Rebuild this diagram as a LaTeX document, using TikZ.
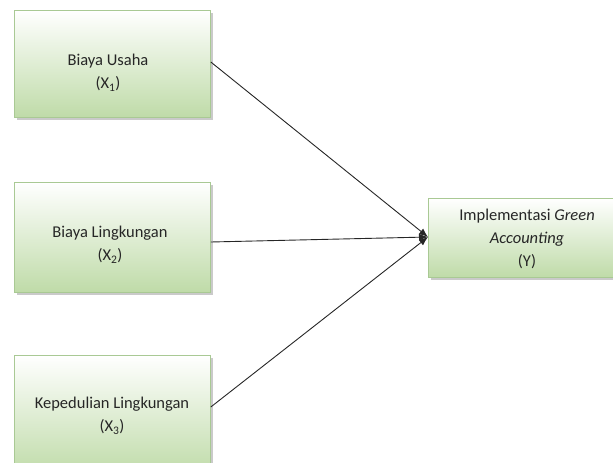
\documentclass[tikz,border=0pt]{standalone}
\usepackage{fontspec}
\setmainfont{Carlito}
\usetikzlibrary{shadows,arrows.meta}
\definecolor{boxgreen}{HTML}{BFDBA8}
\definecolor{boxborder}{HTML}{A9C994}
\definecolor{txt}{HTML}{262626}
\tikzset{
  varbox/.style={draw=boxborder, line width=0.8pt, top color=white, bottom color=boxgreen,
    drop shadow={shadow xshift=2.5pt, shadow yshift=-2.5pt, fill=black!35, opacity=0.6},
    anchor=north west, inner sep=0pt},
  vartext/.style={align=center, text=txt, font=\fontsize{16.5}{23}\selectfont},
  conn/.style={line width=0.9pt, draw=black!85, -{Latex[length=9pt,width=7pt]}}
}
\begin{document}
\begin{tikzpicture}[x=1pt,y=1pt]
\useasboundingbox (0,0) rectangle (613,-463);
\clip (0,0) rectangle (613,-463);
\node[varbox, minimum width=196pt, minimum height=107pt] (b1) at (14,-10) {};
\node[varbox, minimum width=196pt, minimum height=110pt] (b2) at (14,-182) {};
\node[varbox, minimum width=196pt, minimum height=120pt] (b3) at (14,-355) {};
\node[varbox, minimum width=195pt, minimum height=79pt] (by) at (428,-198) {};
\node[vartext] (t1) at (108,-73) {Biaya Usaha\\(X\textsubscript{1})};
\node[vartext] (t2) at (110,-245) {Biaya Lingkungan\\(X\textsubscript{2})};
\node[vartext] (t3) at (112,-416) {Kepedulian Lingkungan\\(X\textsubscript{3})};
\node[vartext] (ty) at (527,-239) {Implementasi \textit{Green}\\\textit{Accounting}\\(Y)};
\coordinate (tip) at (428,-237);
\draw[conn] (b1.east |- 0,-62) -- (tip);
\draw[conn] (b2.east |- 0,-242) -- (tip);
\draw[conn] (b3.east |- 0,-407) -- (tip);
\end{tikzpicture}
\end{document}
